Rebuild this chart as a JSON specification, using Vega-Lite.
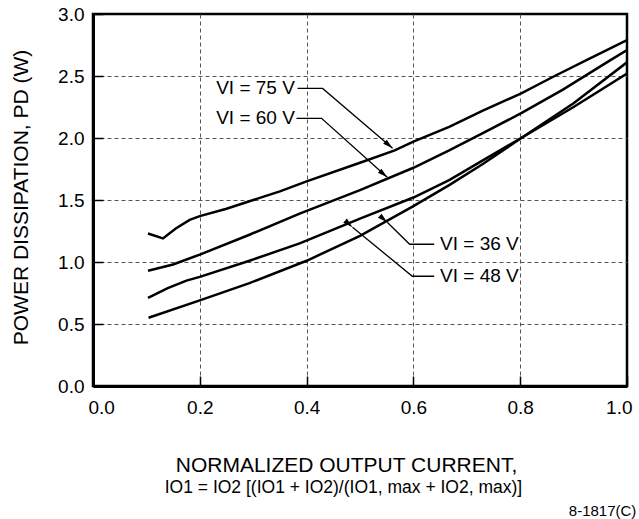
{
  "$schema": "https://vega.github.io/schema/vega-lite/v6.json",
  "width": 534,
  "height": 372,
  "autosize": {"type": "none"},
  "padding": {"left": 93, "top": 14, "right": 12, "bottom": 133},
  "config": {
    "font": "Liberation Sans",
    "view": {"stroke": "#000", "strokeWidth": 2.5}
  },
  "datasets": {
    "curves": [
      {"series": "75 V", "x": 0.103, "y": 1.23}, {"series": "75 V", "x": 0.131, "y": 1.19}, {"series": "75 V", "x": 0.155, "y": 1.27}, {"series": "75 V", "x": 0.181, "y": 1.34}, {"series": "75 V", "x": 0.2, "y": 1.37}, {"series": "75 V", "x": 0.25, "y": 1.43}, {"series": "75 V", "x": 0.293, "y": 1.49}, {"series": "75 V", "x": 0.35, "y": 1.57}, {"series": "75 V", "x": 0.4, "y": 1.65}, {"series": "75 V", "x": 0.5, "y": 1.8}, {"series": "75 V", "x": 0.565, "y": 1.9}, {"series": "75 V", "x": 0.6, "y": 1.97}, {"series": "75 V", "x": 0.667, "y": 2.09}, {"series": "75 V", "x": 0.73, "y": 2.22}, {"series": "75 V", "x": 0.802, "y": 2.36}, {"series": "75 V", "x": 0.86, "y": 2.49}, {"series": "75 V", "x": 0.925, "y": 2.63}, {"series": "75 V", "x": 1.0, "y": 2.79},
      {"series": "60 V", "x": 0.103, "y": 0.93}, {"series": "60 V", "x": 0.15, "y": 0.98}, {"series": "60 V", "x": 0.2, "y": 1.06}, {"series": "60 V", "x": 0.293, "y": 1.22}, {"series": "60 V", "x": 0.387, "y": 1.39}, {"series": "60 V", "x": 0.5, "y": 1.58}, {"series": "60 V", "x": 0.6, "y": 1.76}, {"series": "60 V", "x": 0.667, "y": 1.9}, {"series": "60 V", "x": 0.73, "y": 2.04}, {"series": "60 V", "x": 0.802, "y": 2.2}, {"series": "60 V", "x": 0.88, "y": 2.39}, {"series": "60 V", "x": 0.966, "y": 2.62}, {"series": "60 V", "x": 1.0, "y": 2.71},
      {"series": "48 V", "x": 0.103, "y": 0.71}, {"series": "48 V", "x": 0.14, "y": 0.79}, {"series": "48 V", "x": 0.175, "y": 0.85}, {"series": "48 V", "x": 0.2, "y": 0.88}, {"series": "48 V", "x": 0.293, "y": 1.01}, {"series": "48 V", "x": 0.387, "y": 1.15}, {"series": "48 V", "x": 0.5, "y": 1.35}, {"series": "48 V", "x": 0.6, "y": 1.52}, {"series": "48 V", "x": 0.667, "y": 1.66}, {"series": "48 V", "x": 0.73, "y": 1.82}, {"series": "48 V", "x": 0.802, "y": 2.0}, {"series": "48 V", "x": 0.9, "y": 2.25}, {"series": "48 V", "x": 1.0, "y": 2.52},
      {"series": "36 V", "x": 0.104, "y": 0.55}, {"series": "36 V", "x": 0.2, "y": 0.69}, {"series": "36 V", "x": 0.293, "y": 0.83}, {"series": "36 V", "x": 0.4, "y": 1.01}, {"series": "36 V", "x": 0.5, "y": 1.21}, {"series": "36 V", "x": 0.6, "y": 1.45}, {"series": "36 V", "x": 0.667, "y": 1.62}, {"series": "36 V", "x": 0.73, "y": 1.79}, {"series": "36 V", "x": 0.802, "y": 2.0}, {"series": "36 V", "x": 0.9, "y": 2.28}, {"series": "36 V", "x": 1.0, "y": 2.61}
    ],
    "leaders": [
      {"series": "75 V", "step": 1, "x": 0.383, "y": 2.4}, {"series": "75 V", "step": 2, "x": 0.43, "y": 2.4}, {"series": "75 V", "step": 3, "x": 0.561, "y": 1.917},
      {"series": "60 V", "step": 1, "x": 0.381, "y": 2.159}, {"series": "60 V", "step": 2, "x": 0.428, "y": 2.159}, {"series": "60 V", "step": 3, "x": 0.551, "y": 1.683},
      {"series": "36 V", "step": 1, "x": 0.639, "y": 1.143}, {"series": "36 V", "step": 2, "x": 0.593, "y": 1.143}, {"series": "36 V", "step": 3, "x": 0.551, "y": 1.32},
      {"series": "48 V", "step": 1, "x": 0.639, "y": 0.885}, {"series": "48 V", "step": 2, "x": 0.598, "y": 0.885}, {"series": "48 V", "step": 3, "x": 0.486, "y": 1.28}
    ],
    "tips": [
      {"series": "75 V", "x": 0.561, "y": 1.917},
      {"series": "60 V", "x": 0.551, "y": 1.683},
      {"series": "36 V", "x": 0.551, "y": 1.32},
      {"series": "48 V", "x": 0.486, "y": 1.28}
    ],
    "labels": [
      {"series": "75 V", "text": "VI = 75 V", "x": 0.378, "y": 2.4},
      {"series": "60 V", "text": "VI = 60 V", "x": 0.378, "y": 2.159},
      {"series": "36 V", "text": "VI = 36 V", "x": 0.65, "y": 1.143},
      {"series": "48 V", "text": "VI = 48 V", "x": 0.65, "y": 0.885}
    ]
  },
  "layer": [
    {
      "data": {"name": "curves"},
      "mark": {"type": "line", "color": "#000", "strokeWidth": 2.5, "clip": true},
      "encoding": {
        "x": {
          "field": "x", "type": "quantitative",
          "scale": {"domain": [0, 1], "nice": false, "zero": false},
          "axis": {
            "values": [0, 0.2, 0.4, 0.6, 0.8, 1.0],
            "format": ".1f",
            "title": "NORMALIZED OUTPUT CURRENT,",
            "grid": true,
            "gridDash": [4, 3],
            "gridColor": "#555",
            "gridWidth": 1,
            "gridOpacity": {"condition": {"test": "datum.value <= 0 || datum.value >= 1", "value": 0}, "value": 1},
            "domainColor": "#000",
            "domainWidth": 3,
            "tickColor": "#000",
            "tickSize": -10,
            "tickWidth": 1.5,
            "labelFontSize": 19,
            "labelColor": "#000",
            "labelPadding": 22,
            "labelFlush": true,
            "labelFlushOffset": 5,
            "titleFontSize": 21,
            "titleFontWeight": "normal",
            "titleColor": "#000",
            "titleX": 253,
            "titleY": 85,
            "titleBaseline": "alphabetic"
          }
        },
        "y": {
          "field": "y", "type": "quantitative",
          "scale": {"domain": [0, 3], "nice": false, "zero": false},
          "axis": {
            "values": [0, 0.5, 1.0, 1.5, 2.0, 2.5, 3.0],
            "format": ".1f",
            "title": "POWER DISSIPATION, PD (W)",
            "grid": true,
            "gridDash": [4, 3],
            "gridColor": "#555",
            "gridWidth": 1,
            "gridOpacity": {"condition": {"test": "datum.value <= 0 || datum.value >= 3", "value": 0}, "value": 1},
            "domainColor": "#000",
            "domainWidth": 3,
            "tickColor": "#000",
            "tickSize": -10,
            "tickWidth": 1.5,
            "labelFontSize": 19,
            "labelColor": "#000",
            "labelPadding": 19,
            "titleFontSize": 21,
            "titleFontWeight": "normal",
            "titleColor": "#000",
            "titleX": -72,
            "titleY": 183,
            "titleBaseline": "middle",
            "titleAlign": "center",
            "titleAngle": -90
          }
        },
        "detail": {"field": "series"}
      }
    },
    {
      "data": {"name": "leaders"},
      "mark": {"type": "line", "color": "#000", "strokeWidth": 1.3},
      "encoding": {
        "x": {"field": "x", "type": "quantitative"},
        "y": {"field": "y", "type": "quantitative"},
        "detail": {"field": "series"},
        "order": {"field": "step"}
      }
    },
    {
      "data": {"name": "tips"},
      "mark": {"type": "point", "shape": "M0,0L-2,-0.55L-2,0.55Z", "filled": true, "color": "#000", "size": 100, "opacity": 1},
      "encoding": {
        "x": {"field": "x", "type": "quantitative"},
        "y": {"field": "y", "type": "quantitative"},
        "angle": {"field": "series", "type": "nominal", "scale": {"domain": ["75 V", "60 V", "36 V", "48 V"], "range": [40.6, 41.8, 225, 219]}, "legend": null}
      }
    },
    {
      "data": {"name": "labels"},
      "transform": [{"filter": "datum.series == '75 V' || datum.series == '60 V'"}],
      "mark": {"type": "text", "align": "right", "baseline": "middle", "fontSize": 19, "color": "#000"},
      "encoding": {
        "x": {"field": "x", "type": "quantitative"},
        "y": {"field": "y", "type": "quantitative"},
        "text": {"field": "text"}
      }
    },
    {
      "data": {"name": "labels"},
      "transform": [{"filter": "datum.series == '36 V' || datum.series == '48 V'"}],
      "mark": {"type": "text", "align": "left", "baseline": "middle", "fontSize": 19, "color": "#000"},
      "encoding": {
        "x": {"field": "x", "type": "quantitative"},
        "y": {"field": "y", "type": "quantitative"},
        "text": {"field": "text"}
      }
    },
    {
      "data": {"values": [{"text": "IO1 = IO2 [(IO1 + IO2)/(IO1, max + IO2, max)]"}]},
      "mark": {"type": "text", "align": "center", "baseline": "alphabetic", "fontSize": 17.5, "color": "#000"},
      "encoding": {
        "x": {"datum": 0.469, "type": "quantitative"},
        "y": {"datum": -0.865, "type": "quantitative"},
        "text": {"field": "text"}
      }
    },
    {
      "data": {"values": [{"text": "8-1817(C)"}]},
      "mark": {"type": "text", "align": "left", "baseline": "alphabetic", "fontSize": 15, "color": "#000"},
      "encoding": {
        "x": {"datum": 0.891, "type": "quantitative"},
        "y": {"datum": -1.045, "type": "quantitative"},
        "text": {"field": "text"}
      }
    }
  ]
}
